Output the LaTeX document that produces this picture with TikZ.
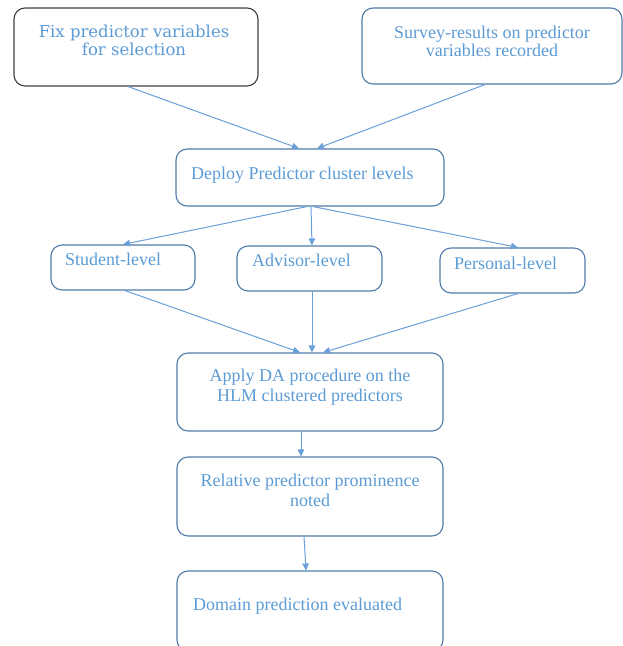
\documentclass[tikz,border=0pt]{standalone}
\usepackage{fontspec}
\setmainfont{Liberation Serif}
\newfontfamily\slabfont{DejaVu Serif}
\usepackage{tikz}
\usetikzlibrary{arrows.meta,positioning}

\definecolor{txtblue}{HTML}{5B9BD5}
\definecolor{lineblue}{HTML}{6A9FD8}
\definecolor{boxblue}{HTML}{4F7BAA}
\definecolor{boxgray}{HTML}{404040}

\begin{document}
\begin{tikzpicture}[x=1pt,y=-1pt,
  box/.style={draw=boxblue, line width=1.1pt, rounded corners=11pt, inner sep=0pt},
  lbl/.style={text=txtblue, font=\fontsize{18}{19}\selectfont, align=center, inner sep=0pt},
  link/.style={draw=lineblue, line width=1pt, -{Triangle[length=7pt,width=6.5pt]}}]
\useasboundingbox (0,0) rectangle (623,646);
% top row
\node[box, draw=boxgray, minimum width=244pt, minimum height=78pt] (fix) at (136,47) {};
\node[box, minimum width=260pt, minimum height=76pt] (survey) at (492,46) {};
\node[lbl, font=\slabfont\fontsize{16.5}{18}\selectfont] (fixtxt) at (134,40) {Fix predictor variables\\for selection};
\node[lbl, font=\fontsize{18}{18}\selectfont] (surveytxt) at (492,41) {Survey-results on predictor\\variables recorded};
% cluster levels
\node[box, minimum width=268pt, minimum height=57pt] (deploy) at (310,177.5) {};
\node[lbl, anchor=base west] (deploytxt) at (191,179) {Deploy Predictor cluster levels};
\node[box, minimum width=144pt, minimum height=45pt] (student) at (123,267.5) {};
\node[box, minimum width=145pt, minimum height=45pt] (advisor) at (309.5,268.5) {};
\node[box, minimum width=145pt, minimum height=45pt] (personal) at (512.5,270.5) {};
\node[lbl, anchor=base west] (studenttxt) at (65,265) {Student-level};
\node[lbl, anchor=base west] (advisortxt) at (252,266) {Advisor-level};
\node[lbl, anchor=base west] (personaltxt) at (454,269) {Personal-level};
% lower chain
\node[box, minimum width=266pt, minimum height=78pt] (apply) at (310,392) {};
\node[box, minimum width=266pt, minimum height=79pt] (relative) at (310,496.5) {};
\node[box, minimum width=266pt, minimum height=80pt] (domain) at (310,611) {};
\node[lbl, font=\fontsize{18}{20}\selectfont] (applytxt) at (310,387) {Apply DA procedure on the\\HLM clustered predictors};
\node[lbl, font=\fontsize{18}{20}\selectfont] (relativetxt) at (310,490) {Relative predictor prominence\\noted};
\node[lbl, anchor=base west] (domaintxt) at (193,610) {Domain prediction evaluated};

% connectors
\draw[link] ([xshift=-8pt]fix.south) -- ([xshift=-11pt]deploy.north);
\draw[link] ([xshift=-7pt]survey.south) -- ([xshift=7pt]deploy.north);
\draw[link] ([xshift=-3pt]deploy.south) -- (student.north);
\draw[link] ([xshift=1pt]deploy.south) -- ([xshift=2.5pt]advisor.north);
\draw[link] ([xshift=3pt]deploy.south) -- ([xshift=5.5pt]personal.north);
\draw[link] ([xshift=2pt]student.south) -- ([xshift=-10pt]apply.north);
\draw[link] ([xshift=2.5pt]advisor.south) -- ([xshift=2pt]apply.north);
\draw[link] ([xshift=5.5pt]personal.south) -- ([xshift=13pt]apply.north);
\draw[link] ([xshift=-9pt]apply.south) -- ([xshift=-9pt]relative.north);
\draw[link] ([xshift=-6pt]relative.south) -- ([xshift=-4pt]domain.north);
\end{tikzpicture}
\end{document}
